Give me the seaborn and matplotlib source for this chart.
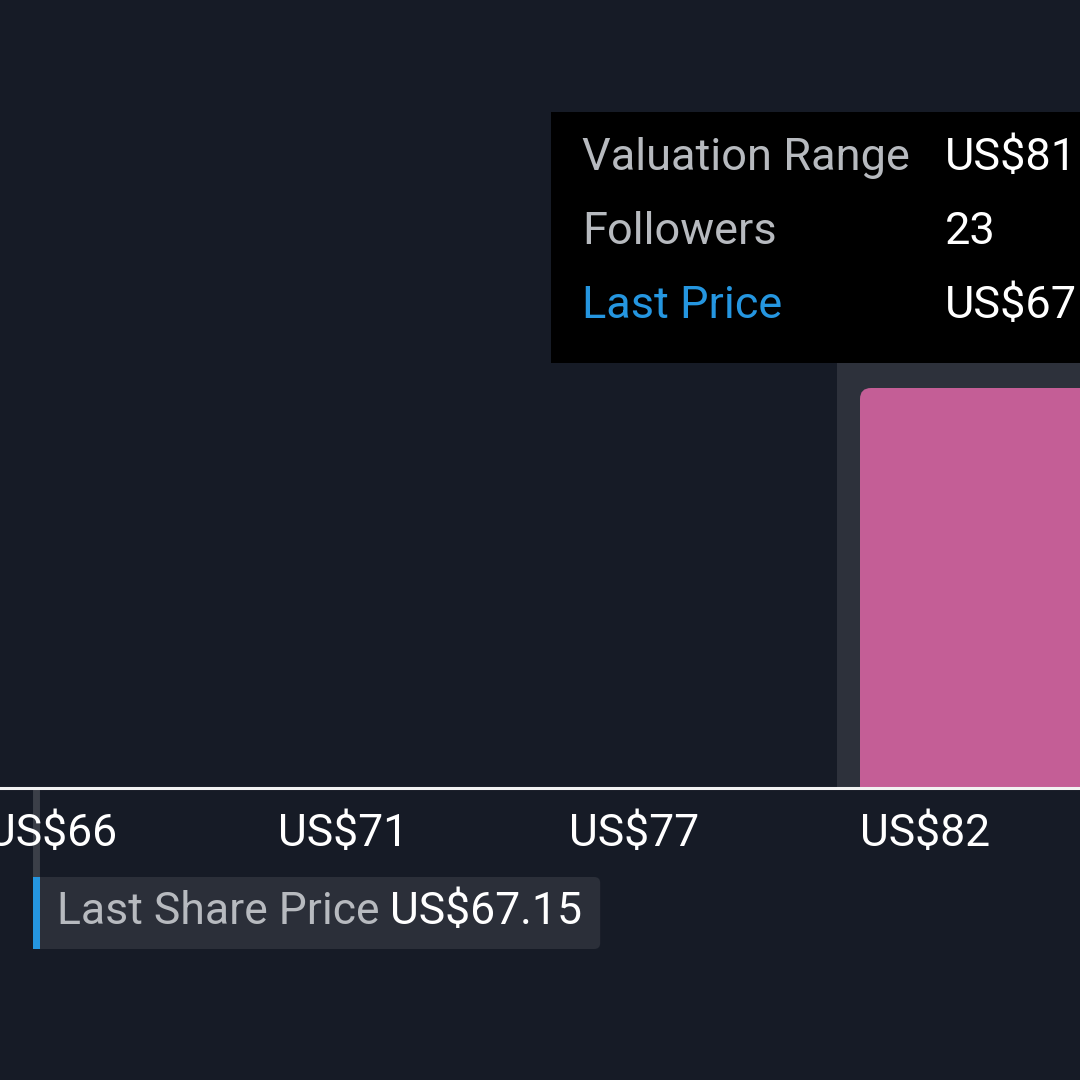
import matplotlib
matplotlib.use("Agg")
import matplotlib.pyplot as plt
import matplotlib.transforms as mtransforms
from matplotlib.patches import FancyBboxPatch, Rectangle
from matplotlib.lines import Line2D
import seaborn as sns

# --------------------
# Data
# --------------------
tick_values = [66.2, 71.6, 77.0, 82.4]
tick_labels = ["US$66", "US$71", "US$77", "US$82"]
last_price = 67.15
last_price_label = "US$67.15"
bin_edges = [82.4, 90.0]
followers = [23]
tooltip_rows = ["Valuation Range", "Followers", "Last Price"]
tooltip_values = ["US$81", "23", "US$67"]

# colours
BG = "#161b26"
PINK = "#c45e96"
BAND = "#2d313b"
BLUE = "#2596e0"
GREY_TXT = "#b7babf"
BOX = "#2b2f39"
MARK = "#3b3f48"

W = H = 1080
sns.set_theme(style="dark", rc={"axes.facecolor": BG, "figure.facecolor": BG})
plt.rcParams["font.family"] = ["Roboto", "DejaVu Sans"]

fig = plt.figure(figsize=(W / 100, H / 100), dpi=100)
# pixel coords, origin top-left
px = mtransforms.Affine2D().scale(1 / W, -1 / H).translate(0, 1) + fig.transFigure

axis_y = 788
ax = fig.add_axes([-54 / W, 1 - axis_y / H, 1188 / W, axis_y / H])
ax.set_facecolor(BG)

# scale: 291 px between ticks, first tick label starts at x=-13
px_per = 291 / (tick_values[1] - tick_values[0])
xmin = tick_values[0] - 41 / px_per
xmax = xmin + 1188 / px_per
ax.set_xlim(xmin, xmax)
ax.set_ylim(0, followers[0] * axis_y / 400)

# hover band behind the bar
ax.axvspan(bin_edges[0] - 23 / px_per, xmax, ymin=0, ymax=0.8, color=BAND, lw=0, zorder=0)

sns.histplot(x=[sum(bin_edges) / 2], weights=followers, bins=bin_edges,
             color=PINK, alpha=1, edgecolor="none", linewidth=0, ax=ax, zorder=2)
for p in list(ax.patches):
    if p.get_facecolor()[:3] == matplotlib.colors.to_rgb(PINK):
        x0, w, h = p.get_x(), p.get_width(), p.get_height()
        p.set_visible(False)
        r = 11 / px_per
        yscale = ax.get_ylim()[1] / axis_y
        ax.add_patch(FancyBboxPatch((x0, -5), w, h + 5,
                                    boxstyle=f"round,pad=0,rounding_size={r}",
                                    mutation_aspect=(yscale * px_per),
                                    fc=PINK, ec="none", zorder=2))

ax.set_xticks(tick_values, tick_labels)
ax.set_yticks([])
ax.set_xlabel("")
ax.set_ylabel("")
ax.tick_params(axis="x", length=0, pad=18, labelsize=32, labelcolor="white")
for lbl in ax.get_xticklabels():
    lbl.set_ha("left")
for s in ["left", "right", "top"]:
    ax.spines[s].set_visible(False)
ax.spines["bottom"].set_color("#f2f2f2")
ax.spines["bottom"].set_linewidth(2.2)
ax.spines["bottom"].set_zorder(5)

# last share price marker (drawn behind the tick labels)
lp_x = ax.transData.transform((last_price, 0))[0] - 2
fig.add_artist(Line2D([lp_x, lp_x], [790, 877], transform=px, color=MARK, lw=5, zorder=-1))
fig.add_artist(FancyBboxPatch((lp_x - 3, 877), 567, 72, boxstyle="round,pad=0,rounding_size=6",
                              transform=px, fc=BOX, ec="none"))
fig.add_artist(Rectangle((lp_x - 3, 877), 7, 72, transform=px, fc=BLUE, ec="none"))
fig.text(lp_x + 21, 912, "Last Share Price", transform=px, color=GREY_TXT,
         fontsize=32, va="center", ha="left")
fig.text(lp_x + 354, 912, last_price_label, transform=px, color="white",
         fontsize=32, va="center", ha="left")

# tooltip
fig.add_artist(Rectangle((551, 112), 600, 251, transform=px, fc="black", ec="none"))
row_y = [158, 232, 306]
row_colors = [GREY_TXT, GREY_TXT, BLUE]
for y, name, val, c in zip(row_y, tooltip_rows, tooltip_values, row_colors):
    fig.text(582, y, name, transform=px, color=c, fontsize=32.5, va="center", ha="left")
    fig.text(945, y, val, transform=px, color="white", fontsize=32.5, va="center", ha="left")

fig.savefig("out.png", dpi=100, facecolor=BG)
